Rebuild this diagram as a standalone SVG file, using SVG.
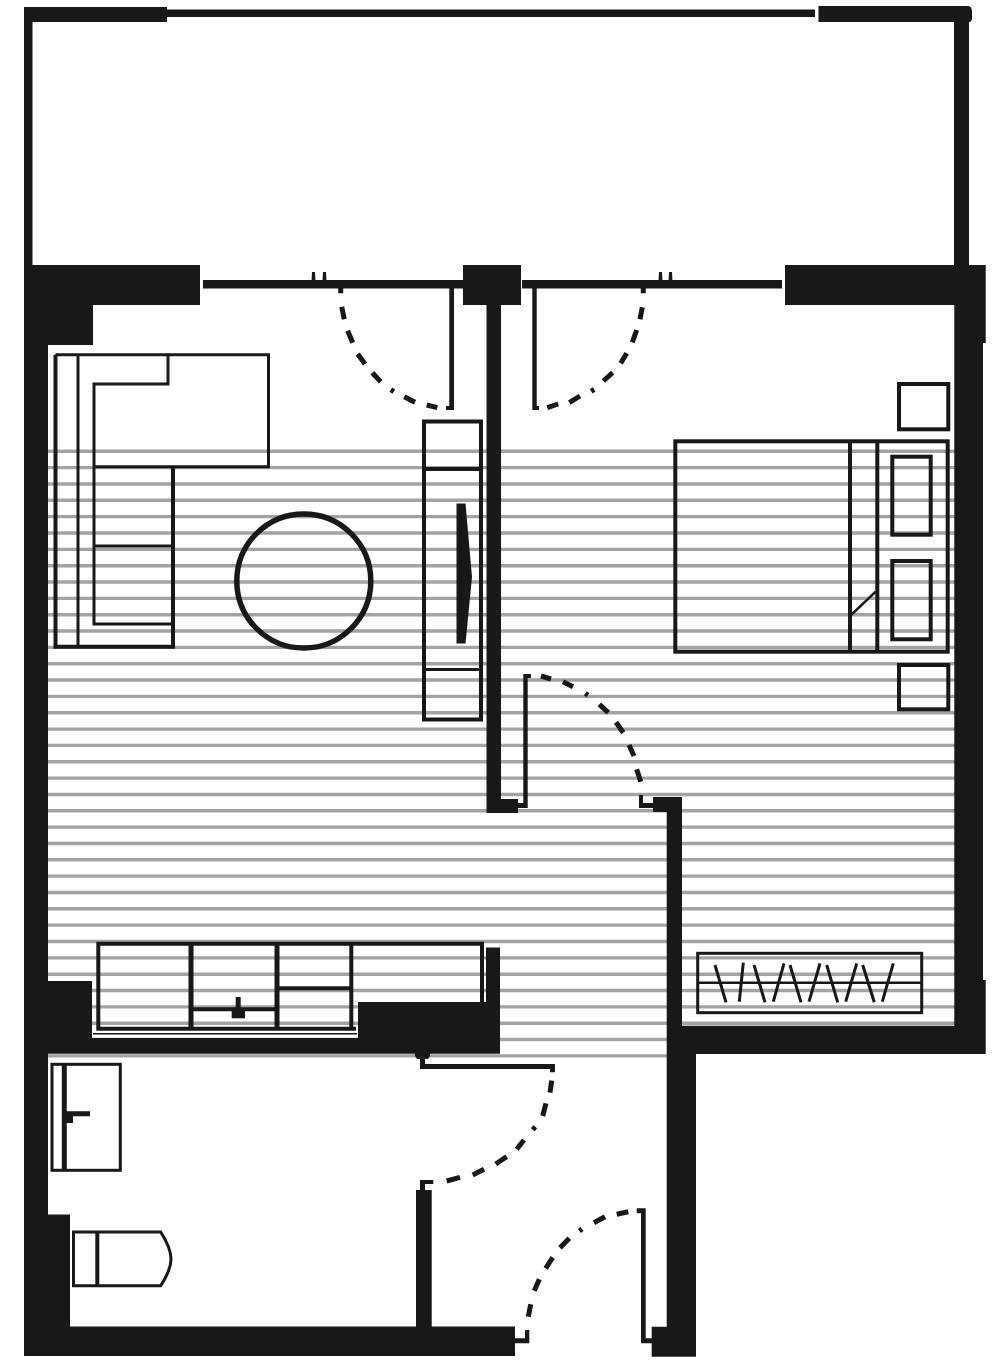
<svg xmlns="http://www.w3.org/2000/svg" width="1000" height="1368" viewBox="0 0 1000 1368">
<style>
.w{fill:#181818;stroke:none}
.l{fill:none;stroke:#181818;stroke-width:3}
.m{fill:none;stroke:#181818;stroke-width:4}
.d{fill:none;stroke:#181818;stroke-width:5}
.h{fill:none;stroke:#a3a3a3;stroke-width:3.4}
</style>
<rect width="1000" height="1368" fill="#fff"/>
<path id="floor-hatch" class="h" transform="translate(0 .3)" d="M48 451H955M48 467.34H955M48 483.68H955M48 500.02H955M48 516.36H955M48 532.7H955M48 549.04H955M48 565.38H955M48 581.72H955M48 598.06H955M48 614.4H955M48 630.74H955M48 647.08H955M48 663.42H955M48 679.76H955M48 696.1H955M48 712.44H955M48 728.78H955M48 745.12H955M48 761.46H955M48 777.8H955M48 794.14H955M48 810.48H955M48 826.82H955M48 843.16H955M48 859.5H955M48 875.84H955M48 892.18H955M48 908.52H955M48 924.86H955M48 941.2H955M48 957.54H955M48 973.88H955M48 990.22H955M48 1006.56H955M48 1022.9H955M48 1039.24H667M48 1055.58H667"/>
<g id="walls">
<path class="w" d="M24 7H167V9.5H815V17H167V22H32.5V265H200V305H93V345H48V981H92V1038H358V1002H486V947.5H500V1053.8H48V1214.5H70V1326.5H515V1356H24Z"/>
<path class="w" d="M818.5 6H968Q972 6 972 12V18Q972 22 969 22V265H985.7V343H983V980H985.7V1054H696V1356.7H651.7V1326.7H666.7V812H653V797H682V1025.7H954.3V305H785V265H954V22H818.5Z"/>
<path class="w" d="M463 265H521V305H501V799H518V813H486.5V305H463Z"/>
<rect class="w" x="416" y="1190" width="15.700" height="137"/>
<path class="w" d="M415 1053H430V1056L428 1059H417L415 1056Z"/>
</g>
<g id="glazing">
<path class="w" d="M203 280H463V288.5H203Z"/>
<path class="w" d="M522 280H782V288.5H522Z"/>
<path class="w" d="M312 272H315L315.500 281H311.500Z"/>
<path class="w" d="M323 272H326L326.500 281H322.500Z"/>
<path class="w" d="M659 272H662L662.500 281H658.500Z"/>
<path class="w" d="M669 272H672L672.500 281H668.500Z"/>
</g>
<g id="door-balcony-left">
<path class="w" d="M449.300 288H454V410H446V406H449.300Z"/>
<path class="d" d="M340.700 288V293.300M341.700 306.700L344.300 319.300M347.700 330.700L352.700 342.700M357.700 354L365 364M372.300 372.700L380.700 381.700M390.800 389.700L393.800 391.700M404.300 396.700L415 402.300M426.700 405L437.300 407.700"/>
</g>
<g id="door-balcony-right">
<path class="w" d="M532.300 288H536.700V406H539V410H532.300Z"/>
<path class="d" d="M643.300 288V293.300M642.300 307.300L640 319.300M636.700 330L632.300 342.300M626.700 353.300L620.700 363.300M612.700 372.700L603.300 381M594.200 389.300L591.200 391.300M580 396L569.300 402.700M558.300 404L547.300 407.700"/>
</g>
<g id="door-bedroom">
<path class="w" d="M523.300 674H531V678H527.700V808H518V803H523.300Z"/>
<path class="d" d="M541 676L551 679M563 681.700L573 686.700M585.400 693.300L588 695.300M599.300 704.300L608.300 712.700M616 722.300L623.300 732.700M629 745L634 756M636.700 769.300L640.700 781.700"/>
<path class="w" d="M639 795H643V803H653V808H639Z"/>
</g>
<g id="door-bathroom">
<path class="w" d="M420 1058H425V1064H555V1072.300H550V1069H420Z"/>
<path class="d" d="M551.700 1080.700L550 1092.700M546 1103.300L542.700 1116M535.200 1126.800L532.800 1129.800M524 1140L516.700 1149.300M506.700 1156.700L495.700 1164M484 1169.300L472.700 1175M460 1177.300L446.700 1181"/>
<path class="w" d="M420 1180H433.300V1184H425V1191H420Z"/>
</g>
<g id="door-entry">
<path class="w" d="M515 1338.300H525V1330H529.300V1343.300H515Z"/>
<path class="d" d="M528.300 1316.700L530.700 1304.300M534.300 1290.700L539.300 1279.300M545.700 1268.300L552.700 1257.300M560 1247.700L569.300 1238.300M579.400 1231L582 1229M594 1222.700L605 1216.700M616.700 1214.300L628.300 1211.700"/>
<path class="w" d="M636.700 1208.300H645.700V1338.300H652V1343.300H641V1213.300H636.700Z"/>
</g>
<g id="sofa">
<path class="l" d="M55.500 354.700H268.500V466.700H94M168 354.700V384H94V624H173M78 354.700V646.700M94 546H173"/>
<path class="m" d="M55.500 354.700V646.700H173V466.700"/>
</g>
<circle id="table" cx="303.800" cy="581" r="67" fill="none" stroke="#181818" stroke-width="5.500"/>
<g id="tv-unit">
<rect class="m" x="424" y="421.500" width="57" height="298"/>
<path class="m" d="M424 469H481"/>
<path class="l" d="M424 669.500H481"/>
<path class="w" d="M456.500 503.500H465.500L472 577L465.500 643.500H456.500Z"/>
</g>
<g id="bed">
<rect class="m" x="675.300" y="441.300" width="272.400" height="210.400"/>
<path class="m" d="M850 441.300V651.700M877.300 441.300V651.700"/>
<path class="l" d="M850 616L875.700 591.700" style="stroke-width:2.500"/>
<rect class="m" x="892.300" y="456.700" width="38.400" height="78"/>
<rect class="m" x="892.300" y="561" width="38.400" height="78.300"/>
</g>
<rect id="nightstand-top" class="m" x="899" y="384" width="49.300" height="45.300"/>
<rect id="nightstand-bottom" class="m" x="899" y="665" width="49.300" height="44.300"/>
<g id="wardrobe">
<rect class="l" x="697.700" y="953.300" width="224" height="59.400"/>
<path class="l" style="stroke-width:2.500" d="M697.700 982.700H921.700"/>
<path class="l" d="M715 965L726 1002.300M743.300 962.700L739.300 1001.700M754 965L765 1002.300M784 963.300L773.300 1001.700M790 965L801 1002.300M820 963.300L809 1001.700M826.700 965L837.700 1002.300M856.700 963.300L845.700 1001.700M862.700 965L874.300 1002.300M893.300 963.300L882.300 1001.700"/>
</g>
<g id="kitchen">
<path class="m" d="M482 1002V943.800H98.300V1028.700H356"/>
<path class="d" d="M191 943.800V1028.700M277 943.800V1028.700"/>
<path class="m" d="M351.300 943.800V1028.700M277 988.300H351.300M191 1009.300H277"/>
<path class="l" style="stroke-width:1.500" d="M93 1033.800H357"/>
<rect class="w" x="235.700" y="997" width="5" height="13"/>
<rect class="w" x="231.700" y="1010" width="13.300" height="8.300"/>
</g>
<g id="vanity">
<rect class="l" x="52" y="1064.300" width="68.300" height="106"/>
<path class="d" d="M64.300 1064.300V1170.300M64.300 1113.700H90"/>
<rect class="w" x="64" y="1113" width="9" height="10"/>
</g>
<g id="toilet">
<path class="l" d="M73.500 1232H160.700Q171 1248 171 1259T160.700 1285.700H73.500Z"/>
<path class="m" d="M97.300 1232V1285.700"/>
</g>
</svg>
